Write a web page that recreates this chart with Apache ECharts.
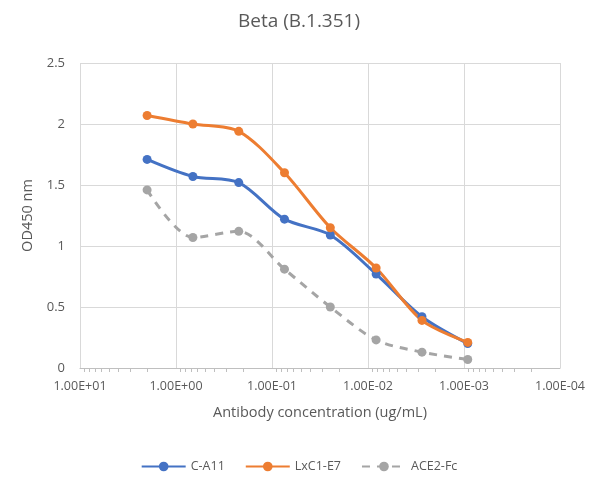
<!DOCTYPE html>
<html>
<head>
<meta charset="utf-8">
<script src="https://cdn.jsdelivr.net/npm/echarts@6/dist/echarts.min.js"></script>
<style>
html,body{margin:0;padding:0;background:#fff;}
#chart{width:598px;height:486px;}
</style>
</head>
<body>
<div id="chart"></div>
<script>
// antibody concentration (ug/mL), 3-fold dilutions
var concentrations = [2, 0.667, 0.222, 0.0741, 0.0247, 0.00823, 0.00274, 0.000914];
var seriesNames = ['C-A11', 'LxC1-E7', 'ACE2-Fc'];
var cA11 = [1.71, 1.57, 1.52, 1.22, 1.09, 0.77, 0.42, 0.20];
var lxC1E7 = [2.07, 2.00, 1.94, 1.60, 1.15, 0.82, 0.39, 0.21];
var ace2Fc = [1.46, 1.07, 1.12, 0.81, 0.50, 0.23, 0.13, 0.07];
var colors = ['#4472C4', '#ED7D31', '#A5A5A5'];

function pairs(ys){
  var out = [];
  for (var i = 0; i < concentrations.length; i++) {
    out.push([concentrations[i], ys[i]]);
  }
  return out;
}

function sciLabel(v){
  var exp = Math.round(Math.log(v) / Math.LN10);
  var mant = (v / Math.pow(10, exp)).toFixed(2);
  var sign = exp < 0 ? '-' : '+';
  var e = Math.abs(exp);
  return mant + 'E' + sign + (e < 10 ? '0' : '') + e;
}

var txt = '#595959';
var font = '"Open Sans", "Liberation Sans", sans-serif';

var myChart = echarts.init(document.getElementById('chart'));
var option = {
  color: colors,
  animation: false,
  textStyle: {fontFamily: font},
  title: {
    text: 'Beta (B.1.351)',
    left: 'center',
    top: 7,
    textStyle: {color: txt, fontSize: 19, fontWeight: 'normal', fontFamily: font}
  },
  legend: {
    data: seriesNames,
    bottom: 8,
    itemWidth: 44,
    itemHeight: 12,
    itemGap: 20,
    textStyle: {color: txt, fontSize: 12.5}
  },
  grid: {left: 80, right: 38, top: 63, bottom: 118},
  xAxis: {
    type: 'log',
    inverse: true,
    min: 0.0001,
    max: 10,
    logBase: 10,
    name: 'Antibody concentration (ug/mL)',
    nameLocation: 'middle',
    nameGap: 37,
    nameTextStyle: {color: txt, fontSize: 14.5},
    axisLine: {show: true, lineStyle: {color: '#BFBFBF'}},
    axisTick: {show: false},
    minorTick: {show: true, splitNumber: 9, length: 4, lineStyle: {color: '#BFBFBF'}},
    splitLine: {show: true, lineStyle: {color: '#D9D9D9'}},
    axisLabel: {color: txt, fontSize: 12.5, margin: 12, formatter: sciLabel}
  },
  yAxis: {
    type: 'value',
    min: 0,
    max: 2.5,
    interval: 0.5,
    name: 'OD450 nm',
    nameLocation: 'middle',
    nameGap: 41,
    nameTextStyle: {color: txt, fontSize: 14.5},
    axisLine: {show: false},
    axisTick: {show: false},
    splitLine: {lineStyle: {color: '#D9D9D9'}},
    axisLabel: {color: txt, fontSize: 13, margin: 15}
  },
  series: [
    {
      name: seriesNames[0], type: 'line', data: pairs(cA11),
      smooth: 0.3, symbol: 'circle', symbolSize: 9,
      lineStyle: {width: 3}
    },
    {
      name: seriesNames[1], type: 'line', data: pairs(lxC1E7),
      smooth: 0.3, symbol: 'circle', symbolSize: 9,
      lineStyle: {width: 3}
    },
    {
      name: seriesNames[2], type: 'line', data: pairs(ace2Fc),
      smooth: 0.3, symbol: 'circle', symbolSize: 9,
      lineStyle: {width: 3, type: [8, 7]}
    }
  ]
};
myChart.setOption(option);
</script>
</body>
</html>
